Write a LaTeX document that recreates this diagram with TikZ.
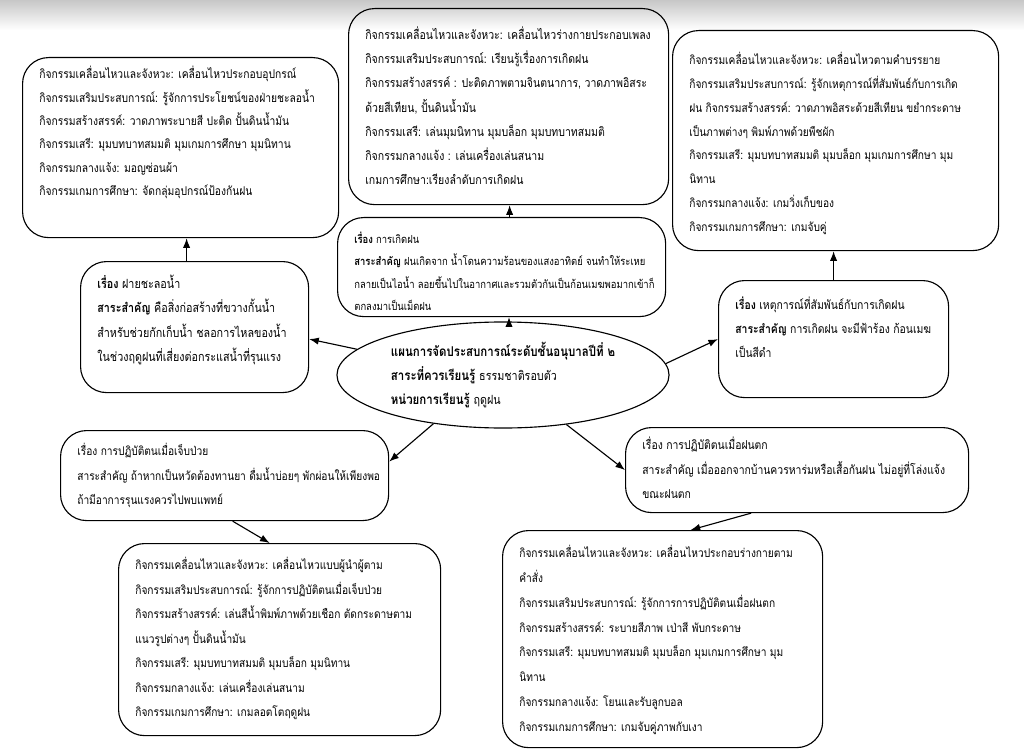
\documentclass[tikz,border=0pt]{standalone}
\usepackage{fontspec}
\newfontfamily\thai[Script=Thai, FakeStretch=0.85]{Loma}
\usetikzlibrary{shapes.geometric, arrows.meta, positioning}

\newcommand{\boxtext}[3]{\parbox[t][#2][t]{#1}{\begin{tabular}[t]{@{}l@{}}#3\end{tabular}}}
\newcommand{\lite}{\fontsize{9}{17}\selectfont}

\tikzset{
  hub/.style={ellipse, draw, line width=0.8pt, align=left, inner sep=0pt,
    minimum width=8.3cm, minimum height=2.65cm, font=\thai\fontsize{9.6}{17}\selectfont},
  card/.style={draw, rounded corners=0.65cm, line width=0.8pt, anchor=north west,
    inner xsep=0.42cm, font=\thai\fontsize{8.5}{17}\selectfont},
  link/.style={-{Latex[length=2.4mm,width=1.8mm]}, line width=0.8pt},
}

\begin{document}
\begin{tikzpicture}[x=0.025cm, y=-0.025cm]
\useasboundingbox (0,0) rectangle (1024,754);
\shade[top color=black!22, bottom color=white] (0,0) rectangle (1024,30);

% centre of the plan
\node[hub] (plan) at (503,375) {{\bfseries แผนการจัดประสบการณ์ระดับชั้นอนุบาลปีที่ ๒}\\
  {\bfseries สาระที่ควรเรียนรู้} {\lite ธรรมชาติรอบตัว}\\
  {\bfseries หน่วยการเรียนรู้} {\lite ฤดูฝน}};

% topics
\node[card, inner ysep=0.25cm, font=\thai\fontsize{9}{17.3}\selectfont] (weir) at (80,261) {\boxtext{4.86cm}{2.775cm}{%
  {\bfseries เรื่อง} ฝายชะลอน้ำ\\
  {\bfseries สาระสำคัญ} คือสิ่งก่อสร้างที่ขวางกั้นน้ำ\\
  สำหรับช่วยกักเก็บน้ำ ชลอการไหลของน้ำ\\
  ในช่วงฤดูฝนที่เสี่ยงต่อกระแสน้ำที่รุนแรง}};
\node[card, inner ysep=0.25cm, font=\thai\fontsize{7.9}{16}\selectfont] (rain) at (337,217) {\boxtext{7.36cm}{1.975cm}{%
  {\bfseries เรื่อง} การเกิดฝน\\
  {\bfseries สาระสำคัญ}  ฝนเกิดจาก น้ำโดนความร้อนของแสงอาทิตย์ จนทำให้ระเหย\\
  กลายเป็นไอน้ำ ลอยขึ้นไปในอากาศและรวมตัวกันเป็นก้อนเมฆพอมากเข้าก็\\
  ตกลงมาเป็นเม็ดฝน}};
\node[card, inner ysep=0.3cm, font=\thai\fontsize{8.7}{17}\selectfont] (event) at (718,280) {\boxtext{4.91cm}{2.325cm}{%
  {\bfseries เรื่อง} เหตุการณ์ที่สัมพันธ์กับการเกิดฝน\\
  {\bfseries สาระสำคัญ} การเกิดฝน จะมีฟ้าร้อง ก้อนเมฆ\\
  เป็นสีดำ}};
\node[card, inner ysep=0.2cm, font=\thai\fontsize{8.5}{17.4}\selectfont] (sick) at (60,430) {\boxtext{7.36cm}{1.85cm}{%
  เรื่อง การปฏิบัติตนเมื่อเจ็บป่วย\\
  สาระสำคัญ ถ้าหากเป็นหวัดต้องทานยา ดื่มน้ำบ่อยๆ พักผ่อนให้เพียงพอ\\
  ถ้ามีอาการรุนแรงควรไปพบแพทย์}};
\node[card, inner ysep=0.125cm, font=\thai\fontsize{8.7}{17.4}\selectfont] (wet) at (625,427) {\boxtext{7.735cm}{1.875cm}{%
  เรื่อง การปฏิบัติตนเมื่อฝนตก\\
  สาระสำคัญ เมื่อออกจากบ้านควรหาร่มหรือเสื้อกันฝน ไม่อยู่ที่โล่งแจ้ง\\
  ขณะฝนตก}};

% activities
\node[card, inner ysep=0.125cm, font=\thai\fontsize{8.6}{16.6}\selectfont] (weiract) at (22,57) {\boxtext{7.06cm}{4.25cm}{%
  กิจกรรมเคลื่อนไหวและจังหวะ: เคลื่อนไหวประกอบอุปกรณ์\\
  กิจกรรมเสริมประสบการณ์: รู้จักการประโยชน์ของฝ่ายชะลอน้ำ\\
  กิจกรรมสร้างสรรค์: วาดภาพระบายสี ปะติด ปั้นดินน้ำมัน\\
  กิจกรรมเสรี: มุมบทบาทสมมติ มุมเกมการศึกษา มุมนิทาน\\
  กิจกรรมกลางแจ้ง: มอญซ่อนผ้า\\
  กิจกรรมเกมการศึกษา: จัดกลุ่มอุปกรณ์ป้องกันฝน}};
\node[card, inner ysep=0.35cm, font=\thai\fontsize{8.8}{17.2}\selectfont] (rainact) at (348,8) {\boxtext{7.16cm}{4.2cm}{%
  กิจกรรมเคลื่อนไหวและจังหวะ: เคลื่อนไหวร่างกายประกอบเพลง\\
  กิจกรรมเสริมประสบการณ์: เรียนรู้เรื่องการเกิดฝน\\
  กิจกรรมสร้างสรรค์ : ปะติดภาพตามจินตนาการ, วาดภาพอิสระ\\
  ด้วยสีเทียน, ปั้นดินน้ำมัน\\
  กิจกรรมเสรี: เล่นมุมนิทาน มุมบล็อก มุมบทบาทสมมติ\\
  กิจกรรมกลางแจ้ง : เล่นเครื่องเล่นสนาม\\
  เกมการศึกษา:เรียงลำดับการเกิดฝน}};
\node[card, inner ysep=0.425cm] (eventact) at (672,30) {\boxtext{7.31cm}{4.65cm}{%
  กิจกรรมเคลื่อนไหวและจังหวะ: เคลื่อนไหวตามคำบรรยาย\\
  กิจกรรมเสริมประสบการณ์: รู้จักเหตุการณ์ที่สัมพันธ์กับการเกิด\\
  ฝน  กิจกรรมสร้างสรรค์: วาดภาพอิสระด้วยสีเทียน ขยำกระดาษ\\
  เป็นภาพต่างๆ พิมพ์ภาพด้วยพืชผัก\\
  กิจกรรมเสรี: มุมบทบาทสมมติ มุมบล็อก มุมเกมการศึกษา มุม\\
  นิทาน\\
  กิจกรรมกลางแจ้ง: เกมวิ่งเก็บของ\\
  กิจกรรมเกมการศึกษา: เกมจับคู่}};
\node[card, inner ysep=0.225cm, font=\thai\fontsize{8.5}{17.4}\selectfont] (sickact) at (118,543) {\boxtext{7.21cm}{4.35cm}{%
  กิจกรรมเคลื่อนไหวและจังหวะ: เคลื่อนไหวแบบผู้นำผู้ตาม\\
  กิจกรรมเสริมประสบการณ์: รู้จักการปฏิบัติตนเมื่อเจ็บป่วย\\
  กิจกรรมสร้างสรรค์: เล่นสีน้ำพิมพ์ภาพด้วยเชือก ตัดกระดาษตาม\\
  แนวรูปต่างๆ  ปั้นดินน้ำมัน\\
  กิจกรรมเสรี: มุมบทบาทสมมติ มุมบล็อก มุมนิทาน\\
  กิจกรรมกลางแจ้ง: เล่นเครื่องเล่นสนาม\\
  กิจกรรมเกมการศึกษา: เกมลอตโตฤดูฝน}};
\node[card, inner ysep=0.25cm, font=\thai\fontsize{8.5}{17.6}\selectfont] (wetact) at (502,530) {\boxtext{7.16cm}{4.925cm}{%
  กิจกรรมเคลื่อนไหวและจังหวะ: เคลื่อนไหวประกอบร่างกายตาม\\
  คำสั่ง\\
  กิจกรรมเสริมประสบการณ์: รู้จักการการปฏิบัติตนเมื่อฝนตก\\
  กิจกรรมสร้างสรรค์: ระบายสีภาพ เป่าสี พับกระดาษ\\
  กิจกรรมเสรี: มุมบทบาทสมมติ มุมบล็อก มุมเกมการศึกษา มุม\\
  นิทาน\\
  กิจกรรมกลางแจ้ง: โยนและรับลูกบอล\\
  กิจกรรมเกมการศึกษา: เกมจับคู่ภาพกับเงา}};

% arrows
\draw[link] (plan.170) -- ([yshift=-0.3cm]weir.east);
\draw[link] ([xshift=-0.2cm]weir.north) -- ([xshift=-0.2cm]weir.north |- weiract.south);
\draw[link] ([xshift=0.15cm]plan.north) -- ([xshift=0.15cm]plan.north |- rain.south);
\draw[link] ([xshift=0.2cm]rain.north) -- ([xshift=0.2cm]rain.north |- rainact.south);
\draw[link] (plan.4) -- (event.west);
\draw[link] (event.north) -- (event.north |- eventact.south);
\draw[link] (plan.215) -- ([yshift=0.35cm]sick.east);
\draw[link] ([xshift=0.2cm]sick.south) -- ([xshift=-0.25cm]sickact.north);
\draw[link] (plan.322) -- (wet.west);
\draw[link] ([xshift=-1.15cm]wet.south) -- ([xshift=0.7cm]wetact.north);
\end{tikzpicture}
\end{document}
